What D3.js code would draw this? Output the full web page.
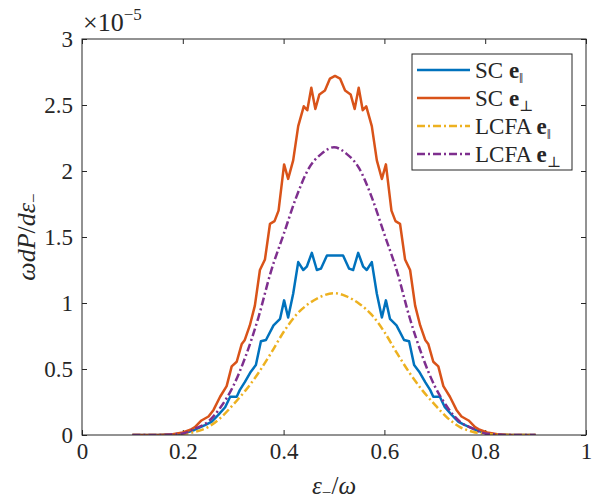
<!DOCTYPE html>
<html>
<head>
<meta charset="utf-8">
<script src="https://cdn.jsdelivr.net/npm/d3@7"></script>
<style>
  body { margin: 0; background: #fff; }
  svg { display: block; }
  svg text { font-family: "Liberation Serif", "DejaVu Serif", serif; fill: #262626; }
</style>
</head>
<body>
<svg id="chart" width="598" height="502"></svg>
<script>
// values are in units of 1e-5
const xTicks = [0, 0.2, 0.4, 0.6, 0.8, 1]
const xTickLabels = ["0", "0.2", "0.4", "0.6", "0.8", "1"]
const yTicks = [0, 0.5, 1, 1.5, 2, 2.5, 3]
const yTickLabels = ["0", "0.5", "1", "1.5", "2", "2.5", "3"]

const scParX = [0.10, 0.15, 0.18, 0.20, 0.212, 0.224, 0.244, 0.257, 0.270, 0.284, 0.294, 0.307, 0.313, 0.323, 0.335, 0.345, 0.355, 0.365, 0.380, 0.393, 0.401, 0.409, 0.419, 0.429, 0.439, 0.446, 0.456, 0.466, 0.474, 0.486, 0.502, 0.518, 0.530, 0.538, 0.548, 0.558, 0.565, 0.575, 0.585, 0.595, 0.603, 0.611, 0.624, 0.639, 0.649, 0.659, 0.669, 0.681, 0.691, 0.697, 0.710, 0.720, 0.734, 0.747, 0.760, 0.780, 0.792, 0.804, 0.824, 0.854, 0.90]
const scParY = [0, 0, 0.003, 0.012, 0.025, 0.04, 0.075, 0.10, 0.15, 0.21, 0.29, 0.29, 0.34, 0.40, 0.48, 0.53, 0.71, 0.72, 0.83, 0.88, 1.02, 0.89, 1.07, 1.31, 1.25, 1.275, 1.38, 1.25, 1.26, 1.36, 1.36, 1.36, 1.26, 1.25, 1.38, 1.275, 1.25, 1.31, 1.07, 0.89, 1.02, 0.88, 0.83, 0.72, 0.71, 0.53, 0.48, 0.40, 0.34, 0.29, 0.29, 0.21, 0.15, 0.10, 0.075, 0.04, 0.025, 0.012, 0.003, 0, 0]

const scPerpX = [0.10, 0.15, 0.18, 0.20, 0.215, 0.224, 0.237, 0.251, 0.261, 0.274, 0.287, 0.297, 0.307, 0.317, 0.323, 0.333, 0.343, 0.353, 0.363, 0.373, 0.382, 0.390, 0.401, 0.409, 0.419, 0.429, 0.440, 0.447, 0.455, 0.463, 0.471, 0.482, 0.492, 0.502, 0.512, 0.522, 0.533, 0.541, 0.549, 0.557, 0.564, 0.575, 0.585, 0.595, 0.603, 0.614, 0.622, 0.631, 0.641, 0.651, 0.661, 0.671, 0.681, 0.687, 0.697, 0.707, 0.717, 0.730, 0.743, 0.753, 0.767, 0.780, 0.789, 0.804, 0.824, 0.854, 0.90]
const scPerpY = [0, 0, 0.005, 0.02, 0.04, 0.06, 0.11, 0.14, 0.19, 0.29, 0.37, 0.52, 0.555, 0.69, 0.72, 0.83, 0.98, 1.25, 1.33, 1.60, 1.62, 1.70, 2.05, 1.94, 2.08, 2.34, 2.49, 2.46, 2.63, 2.47, 2.58, 2.61, 2.70, 2.72, 2.70, 2.61, 2.58, 2.47, 2.63, 2.46, 2.49, 2.34, 2.08, 1.94, 2.05, 1.70, 1.62, 1.60, 1.33, 1.25, 0.98, 0.83, 0.72, 0.69, 0.555, 0.52, 0.37, 0.29, 0.19, 0.14, 0.11, 0.06, 0.04, 0.02, 0.005, 0, 0]

const lcfaX = [0.100, 0.125, 0.150, 0.175, 0.200, 0.225, 0.250, 0.275, 0.300, 0.325, 0.350, 0.375, 0.400, 0.425, 0.450, 0.475, 0.500, 0.525, 0.550, 0.575, 0.600, 0.625, 0.650, 0.675, 0.700, 0.725, 0.750, 0.775, 0.800, 0.825, 0.850, 0.875, 0.900]
const lcfaParY = [0, 0, 0, 0.002, 0.008, 0.025, 0.06, 0.13, 0.23, 0.34, 0.47, 0.62, 0.78, 0.91, 0.995, 1.05, 1.075, 1.05, 0.995, 0.91, 0.78, 0.62, 0.47, 0.34, 0.23, 0.13, 0.06, 0.025, 0.008, 0.002, 0, 0, 0]
const lcfaPerpY = [0, 0, 0, 0.004, 0.012, 0.05, 0.10, 0.21, 0.37, 0.60, 0.89, 1.24, 1.52, 1.80, 2.02, 2.13, 2.18, 2.13, 2.02, 1.80, 1.52, 1.24, 0.89, 0.60, 0.37, 0.21, 0.10, 0.05, 0.012, 0.004, 0, 0, 0]

const seriesNames = ["SC", "SC", "LCFA", "LCFA"]
const seriesSubs = ["\u2016", "\u22A5", "\u2016", "\u22A5"]
const seriesColors = ["#0072BD", "#D95319", "#EDB120", "#7E2F8E"]

const svg = d3.select("#chart")
const plotLeft = 82, plotRight = 586, plotTop = 39, plotBottom = 435

const x = d3.scaleLinear().domain([0, 1]).range([plotLeft, plotRight])
const y = d3.scaleLinear().domain([0, 3]).range([plotBottom, plotTop])

const series = [
    {xs: scParX, ys: scParY, dash: null, curve: d3.curveLinear},
    {xs: scPerpX, ys: scPerpY, dash: null, curve: d3.curveLinear},
    {xs: lcfaX, ys: lcfaParY, dash: "8,3,2,3", curve: d3.curveMonotoneX},
    {xs: lcfaX, ys: lcfaPerpY, dash: "8,3,2,3", curve: d3.curveMonotoneX}
]

// axes box with inward ticks on all sides
const axisColor = "#262626"
const tickLen = 5

svg.append("g")
    .attr("transform", `translate(0,${plotBottom})`)
    .call(d3.axisBottom(x).tickValues(xTicks).tickSizeInner(-tickLen).tickSizeOuter(0).tickPadding(8)
        .tickFormat((d, i) => xTickLabels[i]))
    .call(g => g.select(".domain").remove())
svg.append("g")
    .attr("transform", `translate(0,${plotTop})`)
    .call(d3.axisTop(x).tickValues(xTicks).tickSizeInner(-tickLen).tickSizeOuter(0).tickFormat(""))
    .call(g => g.select(".domain").remove())
svg.append("g")
    .attr("transform", `translate(${plotLeft},0)`)
    .call(d3.axisLeft(y).tickValues(yTicks).tickSizeInner(-tickLen).tickSizeOuter(0).tickPadding(9)
        .tickFormat((d, i) => yTickLabels[i]))
    .call(g => g.select(".domain").remove())
svg.append("g")
    .attr("transform", `translate(${plotRight},0)`)
    .call(d3.axisRight(y).tickValues(yTicks).tickSizeInner(-tickLen).tickSizeOuter(0).tickFormat(""))
    .call(g => g.select(".domain").remove())

svg.selectAll("g").attr("font-family", null)
svg.selectAll(".tick line").attr("stroke", axisColor).attr("stroke-width", 1)
svg.selectAll(".tick text")
    .attr("font-size", 23)
    .attr("fill", axisColor)

const clip = svg.append("defs").append("clipPath").attr("id", "plotclip")
clip.append("rect").attr("x", plotLeft).attr("y", plotTop - 2).attr("width", plotRight - plotLeft).attr("height", plotBottom - plotTop + 2)

const plot = svg.append("g").attr("clip-path", "url(#plotclip)")
series.forEach((s, i) => {
    const line = d3.line()
        .x(d => x(d[0]))
        .y(d => y(d[1]))
        .curve(s.curve)
    plot.append("path")
        .datum(d3.zip(s.xs, s.ys))
        .attr("d", line)
        .attr("fill", "none")
        .attr("stroke", seriesColors[i])
        .attr("stroke-width", 2.5)
        .attr("stroke-linejoin", "round")
        .attr("stroke-dasharray", s.dash)
})

svg.append("rect")
    .attr("x", plotLeft).attr("y", plotTop)
    .attr("width", plotRight - plotLeft).attr("height", plotBottom - plotTop)
    .attr("fill", "none")
    .attr("stroke", axisColor)
    .attr("stroke-width", 1)

// exponent label
const expo = svg.append("text").attr("x", plotLeft + 1).attr("y", 31).attr("font-size", 26)
expo.append("tspan").text("\u00D710")
expo.append("tspan").attr("font-size", 17).attr("dy", -11).text("\u22125")

// axis labels
const xlab = svg.append("text")
    .attr("x", (plotLeft + plotRight) / 2).attr("y", 494)
    .attr("text-anchor", "middle").attr("font-size", 25)
xlab.append("tspan").attr("font-style", "italic").text("\u03B5")
xlab.append("tspan").attr("font-size", 17).attr("dy", 4).text("\u2212")
xlab.append("tspan").attr("dy", -4).text("/")
xlab.append("tspan").attr("font-style", "italic").text("\u03C9")

const ylab = svg.append("text")
    .attr("transform", `translate(35,${(plotTop + plotBottom) / 2}) rotate(-90)`)
    .attr("text-anchor", "middle").attr("font-size", 26)
ylab.append("tspan").attr("font-style", "italic").text("\u03C9dP")
ylab.append("tspan").text("/")
ylab.append("tspan").attr("font-style", "italic").text("d\u03B5")
ylab.append("tspan").attr("font-size", 17).attr("dy", 4).text("\u2212")

// legend
const legend = svg.append("g")
legend.append("rect")
    .attr("x", 412).attr("y", 54).attr("width", 160).attr("height", 116)
    .attr("fill", "#fff").attr("stroke", axisColor).attr("stroke-width", 1)

seriesNames.forEach((name, i) => {
    const ry = 70 + i * 28
    legend.append("line")
        .attr("x1", 417).attr("x2", 470).attr("y1", ry).attr("y2", ry)
        .attr("stroke", seriesColors[i]).attr("stroke-width", 2.5)
        .attr("stroke-dasharray", series[i].dash)
    const t = legend.append("text").attr("x", 475).attr("y", ry + 8).attr("font-size", 23)
    t.append("tspan").text(name + " ")
    t.append("tspan").attr("font-weight", "bold").text("e")
    t.append("tspan").attr("font-size", 15).attr("dy", 5).attr("fill", axisColor).text(seriesSubs[i])
})
</script>
</body>
</html>
